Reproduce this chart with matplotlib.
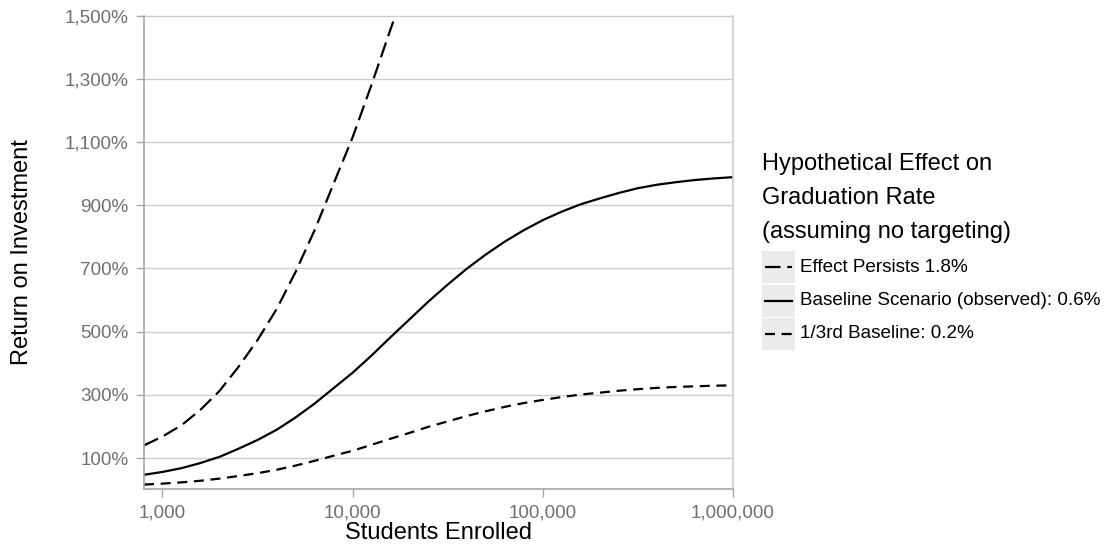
import matplotlib
matplotlib.use("Agg")
from matplotlib import pyplot as plt
from matplotlib.lines import Line2D
from matplotlib.patches import Rectangle
from matplotlib.ticker import FixedLocator, NullLocator

plt.rcParams['font.family'] = ['Liberation Sans', 'DejaVu Sans']

# students enrolled (x) and return on investment in percent (y)
students = [800, 1000, 1260, 1580, 2000, 2500, 3160, 4000, 5000, 6300, 7900,
            10000, 12600, 15800, 20000, 25100, 31600, 39800, 50100, 63100, 79400,
            100000, 126000, 158000, 200000, 251000, 316000, 398000, 501000,
            631000, 794000, 1000000]
roi_baseline = [47, 56, 68, 84, 104, 129, 157, 190, 228, 272, 320,
                370, 425, 482, 540, 596, 649, 699, 744, 785, 821,
                853, 880, 903, 922, 939, 954, 965, 973, 980, 985, 989]
roi_third = [16, 19, 23, 28, 35, 43, 52, 63, 76, 91, 107,
             123, 142, 161, 180, 199, 216, 233, 248, 262, 274,
             284, 293, 301, 307, 313, 318, 322, 325, 327, 329, 330]

students_high = [800, 1000, 1260, 1580, 2000, 2500, 3160, 4000, 5000, 6300,
                 7900, 10000, 12600, 15800, 20000]
roi_high = [140, 168, 204, 252, 313, 387, 473, 573, 688, 820,
            965, 1115, 1283, 1456, 1628]

series_labels = ['Effect Persists 1.8%',
                 'Baseline Scenario (observed): 0.6%',
                 '1/3rd Baseline: 0.2%']
legend_title = ['Hypothetical Effect on', 'Graduation Rate', '(assuming no targeting)']

x_ticks = [1000, 10000, 100000, 1000000]
x_tick_labels = ['1,000', '10,000', '100,000', '1,000,000']
y_ticks = [100, 300, 500, 700, 900, 1100, 1300, 1500]
y_tick_labels = ['100%', '300%', '500%', '700%', '900%', '1,100%', '1,300%', '1,500%']

W, H = 1112, 546
fig = plt.figure(figsize=(W / 100, H / 100), dpi=100)
ax = fig.add_axes([144 / W, 1 - 489 / H, (733 - 144) / W, (489 - 15.7) / H])

long_dash = (7, 3)
short_dash = (4.5, 3)
lw = 1.6

ax.plot(students_high, roi_high, color='black', lw=lw, dashes=long_dash)
ax.plot(students, roi_baseline, color='black', lw=lw)
ax.plot(students, roi_third, color='black', lw=lw, dashes=short_dash)

ax.set_xscale('log')
ax.set_xlim(800, 1000000)
ax.set_ylim(2, 1500)
ax.xaxis.set_major_locator(FixedLocator(x_ticks))
ax.xaxis.set_minor_locator(NullLocator())
ax.set_xticklabels(x_tick_labels)
ax.set_yticks(y_ticks)
ax.set_yticklabels(y_tick_labels)

grid_col = '#cccccc'
spine_col = '#a6a6a6'
ax.yaxis.grid(True, color=grid_col, lw=1.0)
ax.set_axisbelow(True)
for g in ax.yaxis.get_gridlines():
    g.set_clip_on(False)
ax.spines['top'].set_visible(False)
for s in ['left', 'bottom', 'right']:
    ax.spines[s].set_color(spine_col)
    ax.spines[s].set_linewidth(1.2)
ax.spines['right'].set_color(grid_col)
ax.tick_params(axis='both', colors=spine_col, length=6, width=1.0,
               labelsize=13.6, labelcolor='#707070', pad=5)

ax.set_xlabel('Students Enrolled', fontsize=17, labelpad=0.5)
ax.set_ylabel('Return on Investment', fontsize=17)
ax.yaxis.set_label_coords(-0.188, 0.5)

# legend, drawn in figure pixel coordinates
def fx(px):
    return px / W

def fy(py):
    return 1 - py / H

for i, line in enumerate(legend_title):
    fig.text(fx(762), fy(164 + 34 * i), line, fontsize=17, va='center', ha='left')

key_styles = [long_dash, None, short_dash]
for i, (lab, dsh) in enumerate(zip(series_labels, key_styles)):
    cy = 267 + 33.5 * i
    fig.add_artist(Rectangle((fx(762), fy(cy + 16)), 33 / W, 32 / H,
                             transform=fig.transFigure, facecolor='#ebebeb',
                             edgecolor='none'))
    ln = Line2D([fx(765), fx(792)], [fy(cy), fy(cy)], transform=fig.transFigure,
                color='black', lw=lw)
    if dsh is not None:
        ln.set_dashes(dsh)
    fig.add_artist(ln)
    fig.text(fx(800), fy(cy), lab, fontsize=13.6, va='center', ha='left')

fig.savefig('out.png', dpi=100)
